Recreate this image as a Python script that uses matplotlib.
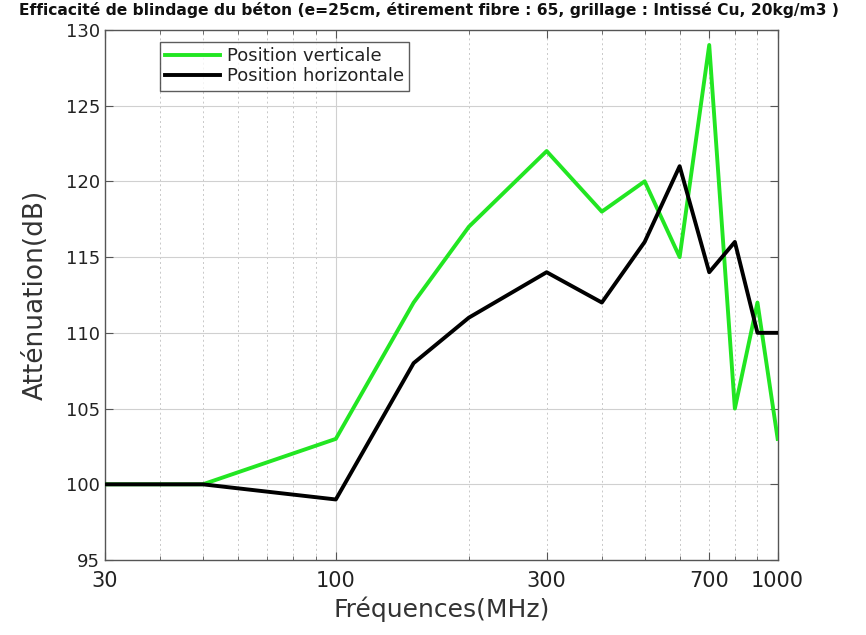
import matplotlib
matplotlib.use("Agg")
import matplotlib.pyplot as plt
from matplotlib.ticker import FixedLocator, NullFormatter

freq = [30, 50, 100, 150, 200, 300, 400, 500, 600, 700, 800, 900, 1000]
vertical = [100, 100, 103, 112, 117, 122, 118, 120, 115, 129, 105, 112, 103]
horizontal = [100, 100, 99, 108, 111, 114, 112, 116, 121, 114, 116, 110, 110]
xticks = [30, 100, 300, 700, 1000]
yticks = [95, 100, 105, 110, 115, 120, 125, 130]

fig = plt.figure(figsize=(8.66, 6.35), dpi=100)
ax = fig.add_axes([0.121, 0.118, 0.777, 0.835])

minor = [40, 50, 60, 70, 80, 90, 200, 300, 400, 500, 600, 700, 800, 900]
for m in minor:
    ax.axvline(m, color='#c8c8c8', lw=0.7, ls=(0, (2, 3)), zorder=0)
ax.axvline(100, color='#d0d0d0', lw=0.8, zorder=0)
for y in yticks[1:-1]:
    ax.axhline(y, color='#d0d0d0', lw=0.8, zorder=0)

ax.plot(freq, vertical, color='#22e622', lw=2.8, label='Position verticale', zorder=3)
ax.plot(freq, horizontal, color='black', lw=2.8, label='Position horizontale', zorder=3)

ax.set_xscale('log')
ax.set_xlim(30, 1000)
ax.set_ylim(95, 130)
ax.xaxis.set_major_locator(FixedLocator(xticks))
ax.set_xticklabels([str(t) for t in xticks])
ax.xaxis.set_minor_locator(FixedLocator(minor))
ax.xaxis.set_minor_formatter(NullFormatter())
ax.set_yticks(yticks)
ax.tick_params(axis='both', which='both', direction='in', top=True, right=True,
               colors='#555555', labelcolor='#222222')
ax.tick_params(axis='x', which='major', labelsize=15, length=6, pad=8)
ax.tick_params(axis='x', which='minor', length=3)
ax.tick_params(axis='y', labelsize=13, length=6)
for s in ax.spines.values():
    s.set_color('#555555')
    s.set_linewidth(1.0)

ax.set_xlabel('Fréquences(MHz)', fontsize=18, color='#333333', labelpad=4)
ax.set_ylabel('Atténuation(dB)', fontsize=19, color='#333333', labelpad=12)
fig.suptitle('Efficacité de blindage du béton (e=25cm, étirement fibre : 65, grillage : Intissé Cu, 20kg/m3 )',
             fontsize=11.2, fontweight='bold', x=0.495, y=0.997, color='#111111')

leg = ax.legend(loc='upper left', bbox_to_anchor=(0.082, 0.978), fontsize=13,
                frameon=True, fancybox=False, edgecolor='#333333', handlelength=3.0,
                borderpad=0.3, labelspacing=0.12, handletextpad=0.4, borderaxespad=0)
leg.get_frame().set_linewidth(1.0)
for t in leg.get_texts():
    t.set_color('#222222')

fig.savefig('out.png', dpi=100)
